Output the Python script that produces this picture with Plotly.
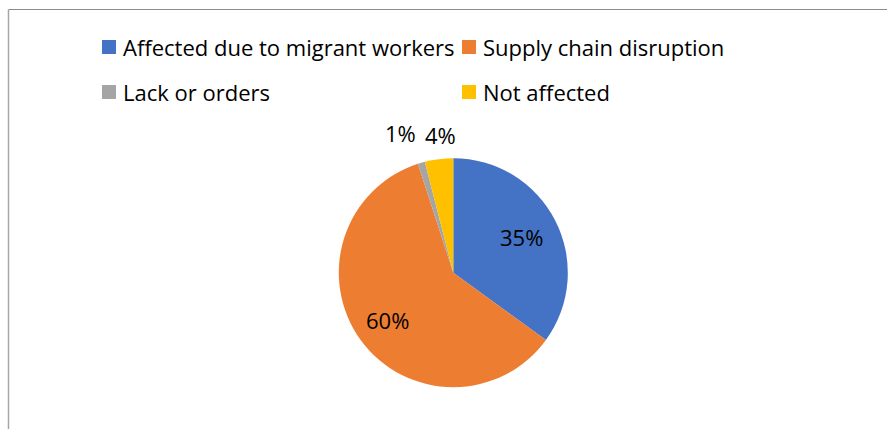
import math
import plotly.graph_objects as go

W, H = 887, 429

# Share of respondents by impact category (percent)
categories = ["Affected due to migrant workers", "Supply chain disruption",
              "Lack or orders", "Not affected"]
shares = [35, 60, 1, 4]
colors = ["#4472C4", "#ED7D31", "#A5A5A5", "#FFC000"]

FONT = "Open Sans"
FS = 22

# pie geometry in pixels
cx, cy, r = 453.3, 272.7, 114.5


def px(x):
    return x / W


def py(y):
    return 1 - y / H


fig = go.Figure()
fig.add_trace(go.Pie(
    labels=categories,
    values=shares,
    marker=dict(colors=colors, line=dict(width=0)),
    sort=False,
    direction="clockwise",
    rotation=0,
    textinfo="none",
    hoverinfo="label+percent",
    showlegend=False,
    domain=dict(x=[px(cx - r), px(cx + r)], y=[py(cy + r), py(cy - r)]),
))

annotations = []
shapes = []

# percentage labels placed along each slice bisector
total = sum(shares)
cum = 0
radial = [0.69, 0.71, 1.30, 1.22]
nudge = [(-2, 0), (0, 0), (-11, 3), (5, 1)]
for v, f, (dx, dy) in zip(shares, radial, nudge):
    mid = (cum + v / 2) / total * 2 * math.pi
    cum += v
    lx = cx + f * r * math.sin(mid) + dx
    ly = cy - f * r * math.cos(mid) + dy
    annotations.append(dict(
        x=px(lx), y=py(ly), xref="paper", yref="paper",
        text=f"{v / total * 100:.0f}%", showarrow=False,
        xanchor="center", yanchor="middle",
        font=dict(family=FONT, size=FS, color="#000000"),
    ))

# two-column legend
leg_x = [102, 462]
leg_y = [47, 92]
sq = 14
for i, (name, col) in enumerate(zip(categories, colors)):
    x0 = leg_x[i % 2]
    yc = leg_y[i // 2]
    shapes.append(dict(
        type="rect", xref="paper", yref="paper",
        x0=px(x0), x1=px(x0 + sq), y0=py(yc + sq / 2), y1=py(yc - sq / 2),
        fillcolor=col, line=dict(width=0),
    ))
    annotations.append(dict(
        x=px(x0 + sq + 5), y=py(yc), xref="paper", yref="paper",
        text=name, showarrow=False, xanchor="left", yanchor="middle",
        font=dict(family=FONT, size=FS, color="#000000"),
    ))

# chart frame edges
shapes.append(dict(type="line", xref="paper", yref="paper",
                   x0=px(8.5), x1=1, y0=py(9.5), y1=py(9.5),
                   line=dict(color="#8c8c8c", width=1)))
shapes.append(dict(type="line", xref="paper", yref="paper",
                   x0=px(8.5), x1=px(8.5), y0=0, y1=py(9.5),
                   line=dict(color="#a6a6a6", width=1.5)))

fig.update_layout(
    width=W, height=H,
    margin=dict(l=0, r=0, t=0, b=0),
    paper_bgcolor="white",
    plot_bgcolor="white",
    annotations=annotations,
    shapes=shapes,
    font=dict(family=FONT, size=FS, color="#000000"),
)

fig.write_html("out.html")
